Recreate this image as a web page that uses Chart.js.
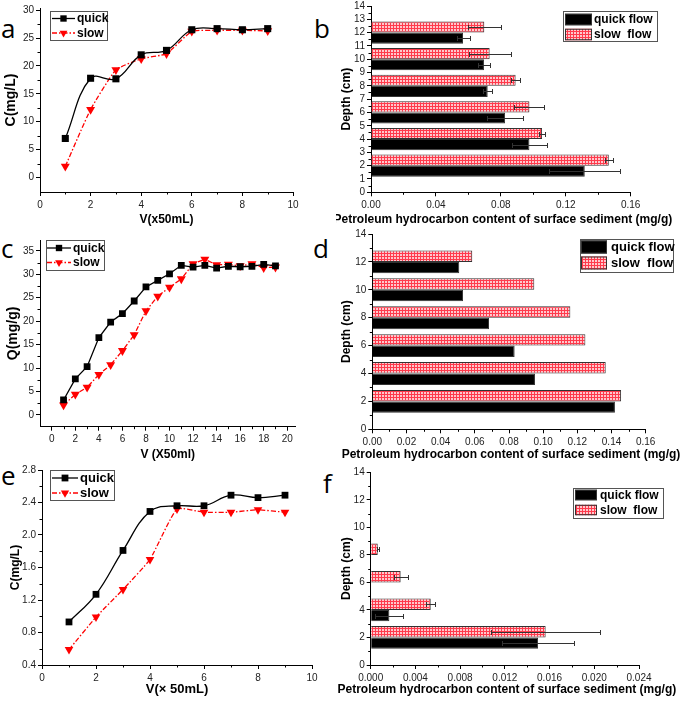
<!DOCTYPE html>
<html>
<head>
<meta charset="utf-8">
<script src="https://cdn.jsdelivr.net/npm/chart.js@4.4.1/dist/chart.umd.min.js"></script>
<style>
  body { margin: 0; background: #fff; width: 685px; height: 702px; position: relative; overflow: hidden; }
  canvas { position: absolute; }
  .tag { position: absolute; font-family: "Open Sans", sans-serif; font-size: 26px; line-height: 26px; color: #000; }
</style>
</head>
<body>
<div class="tag" style="left:1px;top:15px">a</div>
<div class="tag" style="left:314px;top:15px">b</div>
<div class="tag" style="left:1px;top:235px">c</div>
<div class="tag" style="left:313px;top:235px">d</div>
<div class="tag" style="left:1px;top:462px">e</div>
<div class="tag" style="left:323px;top:470px">f</div>

<canvas id="chartA"></canvas>
<canvas id="chartB"></canvas>
<canvas id="chartC"></canvas>
<canvas id="chartD"></canvas>
<canvas id="chartE"></canvas>
<canvas id="chartF"></canvas>

<script>
const FONT = '"Liberation Sans", Arial, sans-serif';

// panel a: concentration vs volume
const volA = [1, 2, 3, 4, 5, 6, 7, 8, 9];
const quickA = [7.0, 17.8, 17.7, 22.0, 22.8, 26.5, 26.7, 26.5, 26.7];
const slowA = [2.0, 12.2, 19.3, 21.3, 22.2, 26.2, 26.4, 26.4, 26.3];
const xTicksA = [0, 2, 4, 6, 8, 10];
const yTicksA = [0, 5, 10, 15, 20, 25, 30];

// panel c: adsorbed amount vs volume
const volC = [1, 2, 3, 4, 5, 6, 7, 8, 9, 10, 11, 12, 13, 14, 15, 16, 17, 18, 19];
const quickC = [3.2, 7.7, 10.3, 16.5, 19.8, 21.6, 24.3, 27.3, 28.7, 30.1, 31.9, 31.5, 31.9, 31.3, 31.7, 31.6, 31.7, 32.1, 31.8];
const slowC = [2.1, 4.4, 5.9, 8.6, 10.7, 13.7, 17.1, 22.2, 25.3, 27.2, 29.0, 32.2, 33.2, 32.0, 32.1, 31.8, 32.2, 31.4, 31.5];
const xTicksC = [0, 2, 4, 6, 8, 10, 12, 14, 16, 18, 20];
const yTicksC = [0, 5, 10, 15, 20, 25, 30, 35];

// panel e
const volE = [1, 2, 3, 4, 5, 6, 7, 8, 9];
const quickE = [0.93, 1.27, 1.81, 2.29, 2.36, 2.36, 2.49, 2.46, 2.49];
const slowE = [0.59, 0.99, 1.33, 1.70, 2.32, 2.28, 2.28, 2.31, 2.28];
const xTicksE = [0, 2, 4, 6, 8, 10];
const yTicksE = [0.4, 0.8, 1.2, 1.6, 2.0, 2.4, 2.8];

// panel b: sediment content by depth
const depthB = [2, 4, 6, 8, 10, 12];
const quickB = [0.1317, 0.0976, 0.0826, 0.0719, 0.0696, 0.0567];
const quickErrB = [0.022, 0.011, 0.011, 0.0027, 0.0035, 0.004];
const slowB = [0.1465, 0.1054, 0.0976, 0.0891, 0.0731, 0.0698];
const slowErrB = [0.0023, 0.0021, 0.0092, 0.0027, 0.013, 0.010];
const xTicksB = [0, 0.04, 0.08, 0.12, 0.16];
const yTicksB = [0, 1, 2, 3, 4, 5, 6, 7, 8, 9, 10, 11, 12, 13, 14];

// panel d
const depthD = [2, 4, 6, 8, 10, 12];
const quickD = [0.1420, 0.0952, 0.0833, 0.0683, 0.0531, 0.0509];
const slowD = [0.1456, 0.1366, 0.1247, 0.1159, 0.0948, 0.0585];
const xTicksD = [0, 0.02, 0.04, 0.06, 0.08, 0.10, 0.12, 0.14, 0.16];
const yTicksD = [0, 2, 4, 6, 8, 10, 12, 14];

// panel f
const depthF = [2, 4, 6, 8];
const quickF = [0.01497, 0.00167, 0, 0];
const quickErrF = [0.0032, 0.00125, 0, 0];
const slowF = [0.01565, 0.00537, 0.00268, 0.00063];
const slowErrF = [0.0049, 0.0004, 0.00064, 0.0001];
const xTicksF = [0, 0.004, 0.008, 0.012, 0.016, 0.020, 0.024];
const yTicksF = [0, 2, 4, 6, 8, 10, 12, 14];

function points(xs, ys) {
    return xs.map((x, i) => ({ x: x, y: ys[i] }));
}

function barPoints(depths, values) {
    return depths.map((d, i) => ({ x: values[i], y: d }));
}

function makeHatch() {
    const c = document.createElement('canvas');
    c.width = 3;
    c.height = 3;
    const g = c.getContext('2d');
    g.fillStyle = '#ffc8cc';
    g.fillRect(0, 0, 3, 3);
    g.fillStyle = '#ff3a4c';
    g.fillRect(0, 0, 3, 1);
    g.fillRect(0, 0, 1, 3);
    return g.createPattern(c, 'repeat');
}
const hatch = makeHatch();

function axis(o) {
    return {
        type: 'linear',
        min: o.min,
        max: o.max,
        offset: false,
        afterBuildTicks: s => { s.ticks = o.ticks.map(v => ({ value: v })); },
        border: { display: true, color: '#000', width: 1 },
        grid: { display: true, drawOnChartArea: false, drawTicks: true, tickLength: 4, tickWidth: 1, tickColor: '#000', offset: false },
        ticks: {
            color: '#222',
            font: { size: 10, family: FONT },
            padding: o.pad,
            maxRotation: 0,
            autoSkip: false,
            callback: o.fmt || (v => String(v))
        },
        title: {
            display: !!o.title,
            text: o.title || '',
            color: '#000',
            font: { size: o.titleSize || 12, weight: 'bold', family: FONT },
            padding: o.titlePad
        }
    };
}

// small minor ticks half way between the major ones
function minorTicks() {
    return {
        id: 'minorTicks',
        afterDraw(chart) {
            const ctx = chart.ctx;
            const area = chart.chartArea;
            ctx.save();
            ctx.strokeStyle = '#000';
            ctx.lineWidth = 1;
            ['x', 'y'].forEach(key => {
                const s = chart.scales[key];
                const t = s.ticks.map(tk => tk.value);
                for (let i = 0; i < t.length - 1; i++) {
                    const v = (t[i] + t[i + 1]) / 2;
                    const p = Math.round(s.getPixelForValue(v)) + 0.5;
                    ctx.beginPath();
                    if (key === 'x') {
                        ctx.moveTo(p, area.bottom);
                        ctx.lineTo(p, area.bottom + 2.5);
                    } else {
                        ctx.moveTo(area.left, p);
                        ctx.lineTo(area.left - 2.5, p);
                    }
                    ctx.stroke();
                }
            });
            ctx.restore();
        }
    };
}

const errorBars = {
    id: 'errorBars',
    afterDatasetsDraw(chart) {
        const ctx = chart.ctx;
        const xs = chart.scales.x;
        ctx.save();
        ctx.strokeStyle = '#333';
        ctx.lineWidth = 1;
        chart.data.datasets.forEach((ds, i) => {
            if (!ds.errors) return;
            chart.getDatasetMeta(i).data.forEach((bar, j) => {
                const e = ds.errors[j];
                if (!e) return;
                const v = ds.data[j].x;
                const x1 = Math.round(xs.getPixelForValue(v - e)) + 0.5;
                const x2 = Math.round(xs.getPixelForValue(v + e)) + 0.5;
                const y = Math.round(bar.y) + 0.5;
                ctx.beginPath();
                ctx.moveTo(x1, y);
                ctx.lineTo(x2, y);
                ctx.moveTo(x1, y - 2.5);
                ctx.lineTo(x1, y + 2.5);
                ctx.moveTo(x2, y - 2.5);
                ctx.lineTo(x2, y + 2.5);
                ctx.stroke();
            });
        });
        ctx.restore();
    }
};

// x title wider than the plot (the scale title would be squeezed)
function wideTitle(text, pageY, box) {
    return {
        id: 'wideTitle',
        afterDraw(chart) {
            if (!text) return;
            const ctx = chart.ctx;
            const area = chart.chartArea;
            ctx.save();
            ctx.font = 'bold 12px ' + FONT;
            ctx.fillStyle = '#000';
            ctx.textAlign = 'center';
            ctx.textBaseline = 'middle';
            ctx.fillText(text, (area.left + area.right) / 2 + 2, pageY - box.y);
            ctx.restore();
        }
    };
}

// boxed legend like the original plots, positions given in page pixels
function boxLegend(spec, box) {
    return {
        id: 'boxLegend',
        afterDraw(chart) {
            const ctx = chart.ctx;
            const ox = box.x, oy = box.y;
            ctx.save();
            ctx.fillStyle = '#fff';
            ctx.fillRect(spec.x - ox, spec.y - oy, spec.w, spec.h);
            ctx.strokeStyle = '#555';
            ctx.lineWidth = 1;
            ctx.strokeRect(spec.x - ox + 0.5, spec.y - oy + 0.5, spec.w, spec.h);
            ctx.font = 'bold ' + spec.font + 'px ' + FONT;
            ctx.textBaseline = 'middle';
            spec.rows.forEach(r => {
                const cy = r.y - oy;
                if (spec.kind === 'line') {
                    ctx.strokeStyle = r.color;
                    ctx.lineWidth = 1.3;
                    ctx.setLineDash(r.dash || []);
                    ctx.beginPath();
                    ctx.moveTo(spec.lx1 - ox, cy);
                    ctx.lineTo(spec.lx2 - ox, cy);
                    ctx.stroke();
                    ctx.setLineDash([]);
                    ctx.fillStyle = r.color;
                    Chart.helpers.drawPoint(ctx, { pointStyle: r.style, radius: r.radius, rotation: r.rotation || 0, borderWidth: 0 }, (spec.lx1 + spec.lx2) / 2 - ox, cy);
                } else {
                    ctx.fillStyle = r.fill;
                    ctx.fillRect(spec.rx - ox, cy - spec.rh / 2, spec.rw, spec.rh);
                    ctx.strokeStyle = '#333';
                    ctx.strokeRect(spec.rx - ox + 0.5, cy - spec.rh / 2 + 0.5, spec.rw - 1, spec.rh - 1);
                }
                ctx.fillStyle = '#000';
                ctx.fillText(r.label, spec.tx - ox, cy + 0.5);
            });
            ctx.restore();
        }
    };
}

function makeChart(id, box, area, config, legend, xTitle) {
    const cv = document.getElementById(id);
    cv.width = box.w;
    cv.height = box.h;
    cv.style.left = box.x + 'px';
    cv.style.top = box.y + 'px';
    config.options.responsive = false;
    config.options.animation = false;
    config.options.layout = {
        padding: { left: 0, top: area.t - box.y, right: box.x + box.w - area.r, bottom: 0 }
    };
    config.options.plugins = { legend: { display: false }, tooltip: { enabled: false } };
    config.options.scales.x.afterFit = s => { s.height = box.y + box.h - area.b; };
    config.options.scales.y.afterFit = s => { s.width = area.l - box.x; };
    config.plugins = [minorTicks(), errorBars, boxLegend(legend, box), wideTitle(xTitle && xTitle.text, xTitle && xTitle.y, box)];
    return new Chart(cv.getContext('2d'), config);
}

function lineDataset(label, data, color, style, radius, dash, tension) {
    return {
        label: label,
        data: data,
        borderColor: color,
        backgroundColor: color,
        borderWidth: 1.3,
        borderDash: dash,
        pointStyle: style,
        pointRotation: style === 'triangle' ? 180 : 0,
        pointRadius: radius,
        pointBorderWidth: 0,
        pointBackgroundColor: color,
        tension: tension
    };
}

function lineRows(rq, rs) {
    return [
        { label: 'quick', color: '#000', style: 'rect', radius: rq },
        { label: 'slow', color: '#ff0000', style: 'triangle', radius: rs, rotation: 180, dash: [5, 2, 1.5, 2] }
    ];
}

const DASH = [5, 2, 1.5, 2];

function renderLinePanels() {
    makeChart('chartA', { x: 0, y: 0, w: 338, h: 230 }, { l: 40, t: 8, r: 293, b: 192 }, {
        type: 'line',
        data: {
            datasets: [
                lineDataset('quick', points(volA, quickA), '#000', 'rect', 5, [], 0.4),
                lineDataset('slow', points(volA, slowA), '#ff0000', 'triangle', 5.2, DASH, 0.15)
            ]
        },
        options: {
            scales: {
                x: axis({ min: 0, max: 10, ticks: xTicksA, pad: 3, title: 'V(x50mL)', titlePad: { top: 0, bottom: 3 } }),
                y: axis({ min: -2.6, max: 30.4, ticks: yTicksA, pad: 2, title: 'C(mg/L)', titleSize: 14, titlePad: { top: 3, bottom: 0 } })
            }
        }
    }, { kind: 'line', x: 50, y: 11, w: 57, h: 29, font: 12, lx1: 52, lx2: 75, tx: 77,
         rows: lineRows(4.5, 4.5).map((r, i) => Object.assign(r, { y: [18.5, 33][i] })) });

    makeChart('chartC', { x: 0, y: 228, w: 338, h: 237 }, { l: 40, t: 240, r: 295.5, b: 426.7 }, {
        type: 'line',
        data: {
            datasets: [
                lineDataset('quick', points(volC, quickC), '#000', 'rect', 4.8, [], 0),
                lineDataset('slow', points(volC, slowC), '#ff0000', 'triangle', 5.2, DASH, 0)
            ]
        },
        options: {
            scales: {
                x: axis({ min: -1, max: 20.7, ticks: xTicksC, pad: 3, title: 'V (X50ml)', titlePad: { top: 0, bottom: 3 } }),
                y: axis({ min: -2.5, max: 37.3, ticks: yTicksC, pad: 2, title: 'Q(mg/g)', titleSize: 14, titlePad: { top: 5, bottom: 0 } })
            }
        }
    }, { kind: 'line', x: 46, y: 240, w: 58, h: 30, font: 12, lx1: 47, lx2: 71, tx: 73,
         rows: lineRows(4.5, 4.5).map((r, i) => Object.assign(r, { y: [248, 262.5][i] })) });

    makeChart('chartE', { x: 0, y: 460, w: 338, h: 242 }, { l: 42, t: 470, r: 312, b: 665 }, {
        type: 'line',
        data: {
            datasets: [
                lineDataset('quick', points(volE, quickE), '#000', 'rect', 4.8, [], 0.4),
                lineDataset('slow', points(volE, slowE), '#ff0000', 'triangle', 5, DASH, 0.15)
            ]
        },
        options: {
            scales: {
                x: axis({ min: 0, max: 10, ticks: xTicksE, pad: 3, title: 'V(\u00D7 50mL)', titleSize: 13, titlePad: { top: 0, bottom: 4.5 } }),
                y: axis({ min: 0.4, max: 2.8, ticks: yTicksE, pad: 2, title: 'C(mg/L)', titlePad: { top: 8, bottom: 0 },
                          fmt: v => v.toFixed(1) })
            }
        }
    }, { kind: 'line', x: 50, y: 470, w: 64, h: 30, font: 13, lx1: 52, lx2: 78, tx: 80,
         rows: lineRows(4.8, 4.8).map((r, i) => Object.assign(r, { y: [478, 493][i] })) });
}

function barDataset(label, data, fill, errors, catPct) {
    return {
        label: label,
        data: data,
        backgroundColor: fill,
        borderColor: '#333',
        borderWidth: 1,
        borderSkipped: 'start',
        categoryPercentage: catPct,
        barPercentage: 1.0,
        errors: errors
    };
}

function barRows() {
    return [
        { label: 'quick flow', fill: '#000' },
        { label: 'slow  flow', fill: hatch }
    ];
}

const XTITLE = 'Petroleum hydrocarbon content of surface sediment (mg/g)';

function renderBarPanels() {
    // ticks every 1 cm here, so the sample spacing Chart.js uses is one unit
    makeChart('chartB', { x: 336, y: -2, w: 349, h: 232 }, { l: 371, t: 5, r: 630.7, b: 192.3 }, {
        type: 'bar',
        data: {
            datasets: [
                barDataset('slow  flow', barPoints(depthB, slowB), hatch, slowErrB, 1.67),
                barDataset('quick flow', barPoints(depthB, quickB), '#000', quickErrB, 1.67)
            ]
        },
        options: {
            indexAxis: 'y',
            scales: {
                x: axis({ min: 0, max: 0.16, ticks: xTicksB, pad: 3, fmt: v => v.toFixed(2) }),
                y: axis({ min: 0, max: 14, ticks: yTicksB, pad: 2, title: 'Depth (cm)', titlePad: { top: 3, bottom: 0 } })
            }
        }
    }, { kind: 'bar', x: 563, y: 11, w: 94, h: 30, font: 12, rx: 565, rw: 27, rh: 11.5, tx: 594,
         rows: barRows().map((r, i) => Object.assign(r, { y: [19.5, 34.5][i] })) },
       { text: XTITLE, y: 220 });

    makeChart('chartD', { x: 336, y: 226, w: 349, h: 239 }, { l: 372.3, t: 232.3, r: 645.7, b: 429.3 }, {
        type: 'bar',
        data: {
            datasets: [
                barDataset('slow  flow', barPoints(depthD, slowD), hatch, null, 0.82),
                barDataset('quick flow', barPoints(depthD, quickD), '#000', null, 0.82)
            ]
        },
        options: {
            indexAxis: 'y',
            scales: {
                x: axis({ min: 0, max: 0.16, ticks: xTicksD, pad: 3, fmt: v => v.toFixed(2) }),
                y: axis({ min: 0, max: 14, ticks: yTicksD, pad: 2, title: 'Depth (cm)', titlePad: { top: 3, bottom: 0 } })
            }
        }
    }, { kind: 'bar', x: 580, y: 239, w: 93, h: 33, font: 13, rx: 581, rw: 26, rh: 13, tx: 611,
         rows: barRows().map((r, i) => Object.assign(r, { y: [247, 263][i] })) },
       { text: XTITLE, y: 455 });

    makeChart('chartF', { x: 336, y: 460, w: 349, h: 242 }, { l: 370.7, t: 472.3, r: 639, b: 665 }, {
        type: 'bar',
        data: {
            datasets: [
                barDataset('slow  flow', barPoints(depthF, slowF), hatch, slowErrF, 0.825),
                barDataset('quick flow', barPoints(depthF, quickF), '#000', quickErrF, 0.825)
            ]
        },
        options: {
            indexAxis: 'y',
            scales: {
                x: axis({ min: 0, max: 0.024, ticks: xTicksF, pad: 3, fmt: v => v.toFixed(3) }),
                y: axis({ min: 0, max: 14, ticks: yTicksF, pad: 2, title: 'Depth (cm)', titlePad: { top: 3, bottom: 0 } })
            }
        }
    }, { kind: 'bar', x: 573, y: 488, w: 90, h: 30, font: 12, rx: 575, rw: 22, rh: 10.5, tx: 600,
         rows: barRows().map((r, i) => Object.assign(r, { y: [495, 510][i] })) },
       { text: XTITLE, y: 690 });
}

renderLinePanels();
renderBarPanels();
</script>
</body>
</html>
